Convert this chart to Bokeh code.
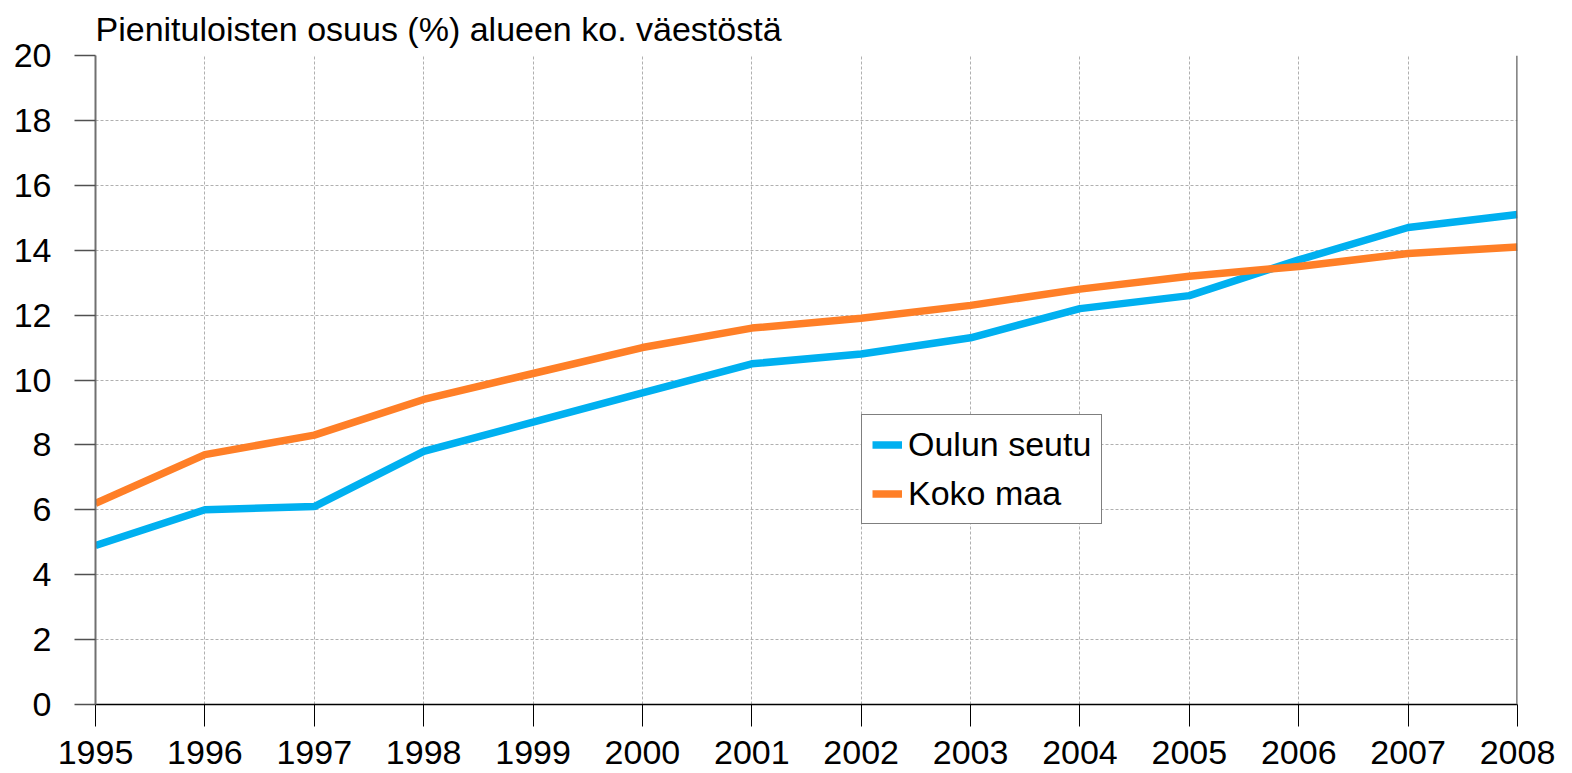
from bokeh.plotting import figure
from bokeh.models import Legend, LegendItem, Span, FixedTicker, Range1d
from bokeh.embed import file_html
from bokeh.resources import INLINE

years = [1995, 1996, 1997, 1998, 1999, 2000, 2001, 2002, 2003, 2004, 2005, 2006, 2007, 2008]
oulun_seutu = [4.9, 6.0, 6.1, 7.8, 8.7, 9.6, 10.5, 10.8, 11.3, 12.2, 12.6, 13.7, 14.7, 15.1]
koko_maa = [6.2, 7.7, 8.3, 9.4, 10.2, 11.0, 11.6, 11.9, 12.3, 12.8, 13.2, 13.5, 13.9, 14.1]
y_ticks = [0, 2, 4, 6, 8, 10, 12, 14, 16, 18, 20]
title_text = "Pienituloisten osuus (%) alueen ko. väestöstä"
series_names = ["Oulun seutu", "Koko maa"]

FONT = "Liberation Sans"

p = figure(width=1560, height=770, output_backend="svg", toolbar_location=None,
           x_range=Range1d(1995, 2008), y_range=Range1d(0, 20),
           min_border_left=95, min_border_right=43, min_border_top=53, min_border_bottom=66,
           title=title_text)
p.title.text_font = FONT
p.title.text_font_size = "34px"
p.title.text_font_style = "normal"
p.title.text_color = "black"
p.title.align = "left"
p.title.standoff = 15

p.outline_line_color = None
p.background_fill_color = "white"
p.border_fill_color = "white"

r1 = p.line(years, oulun_seutu, line_color="#00B0F0", line_width=7.5)
r2 = p.line(years, koko_maa, line_color="#FF7F27", line_width=7.5)

p.xaxis.ticker = FixedTicker(ticks=years)
p.yaxis.ticker = FixedTicker(ticks=y_ticks)

for ax in (p.xaxis, p.yaxis):
    ax.major_label_text_font = FONT
    ax.major_label_text_font_size = "34px"
    ax.major_label_text_color = "black"
    ax.minor_tick_line_color = None
    ax.major_tick_in = 0

p.xaxis.major_tick_out = 22
p.xaxis.major_label_standoff = 14
p.xaxis.axis_line_color = "black"
p.xaxis.major_tick_line_color = "black"
p.xaxis.axis_line_width = 1.5

p.yaxis.major_tick_out = 21
p.yaxis.major_label_standoff = 23
p.yaxis.axis_line_color = "#707070"
p.yaxis.axis_line_width = 2
p.yaxis.major_tick_line_color = "#505050"
p.yaxis.major_tick_line_width = 1.5

for g in (p.xgrid, p.ygrid):
    g.grid_line_color = "#b0b0b0"
    g.grid_line_dash = "3 2"
    g.grid_line_width = 1

p.add_layout(Span(location=2008, dimension="height", line_color="#606060", line_width=2.5))

legend = Legend(items=[LegendItem(label=series_names[0], renderers=[r1]),
                       LegendItem(label=series_names[1], renderers=[r2])],
                location=(766, 180))
legend.label_text_font = FONT
legend.label_text_font_size = "34px"
legend.label_text_color = "black"
legend.glyph_width = 30
legend.glyph_height = 35
legend.label_height = 35
legend.spacing = 10
legend.padding = 10
legend.margin = 0
legend.label_standoff = 6
legend.border_line_color = "black"
legend.border_line_width = 1
legend.background_fill_alpha = 1
p.add_layout(legend)

open("out.html", "w").write(file_html(p, INLINE))
